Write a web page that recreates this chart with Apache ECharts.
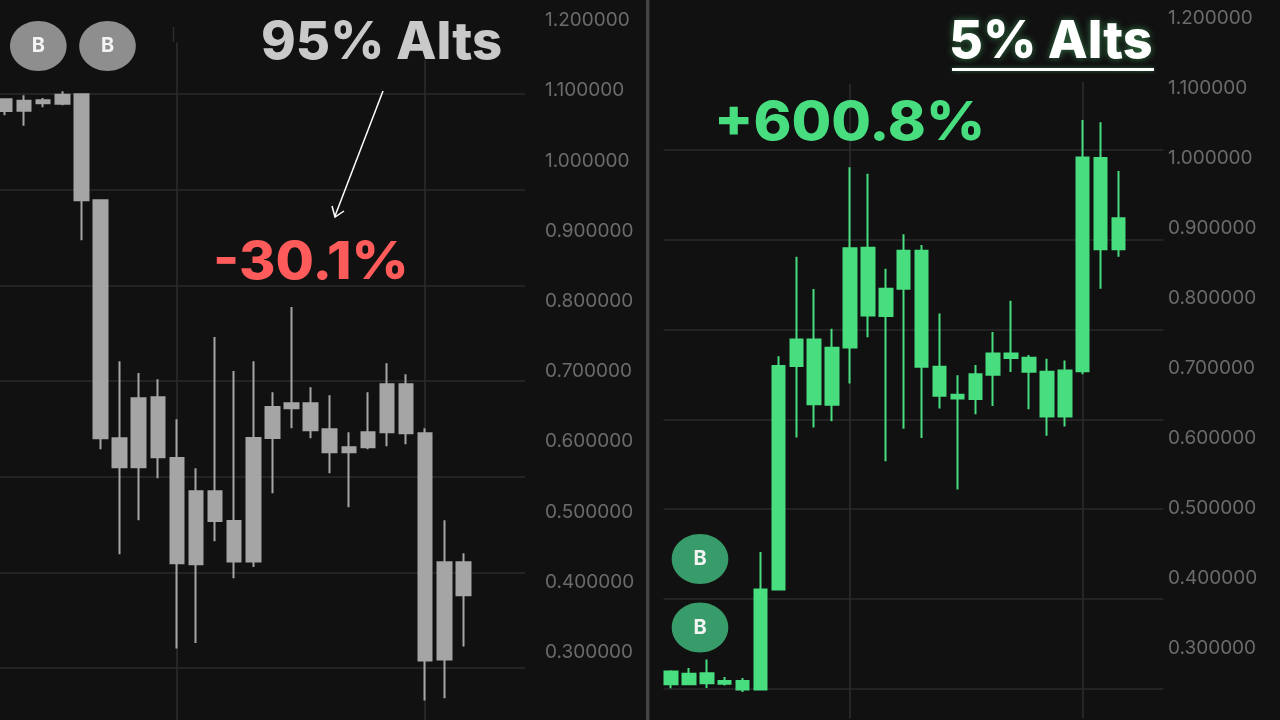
<!DOCTYPE html>
<html><head><meta charset="utf-8">
<style>html,body{margin:0;padding:0;background:#111111}#c{width:1280px;height:720px}</style>
<script src="https://cdn.jsdelivr.net/npm/echarts@6/dist/echarts.min.js"></script>
</head><body><div id="c"></div>
<script>
var openLeft  = [1.0877,1.0856,1.0863,1.0942,1.0949,0.9439,0.6048,0.5635,0.6632,0.5768,0.5293,0.5293,0.4870,0.6053,0.6494,0.6547,0.6547,0.6177,0.5920,0.5920,0.6818,0.6818,0.6120,0.4282,0.4282];
var closeLeft = [1.0711,1.0714,1.0821,1.0813,0.9439,0.6048,0.5635,0.6618,0.5778,0.4268,0.4254,0.4870,0.4296,0.4296,0.6053,0.6476,0.6162,0.5849,0.5849,0.6134,0.6134,0.6120,0.2886,0.2900,0.3812];
var lowLeft   = [1.0650,1.0499,1.0764,1.0792,0.8869,0.5892,0.4396,0.4880,0.5479,0.3057,0.3132,0.4581,0.4054,0.4215,0.5265,0.6191,0.6048,0.5550,0.5066,0.5892,0.5934,0.5963,0.2316,0.2345,0.3085];
var highLeft  = [1.0877,1.0935,1.0896,1.0991,1.0963,0.9439,0.7145,0.6979,0.6889,0.6319,0.5621,0.7492,0.7007,0.7145,0.6704,0.7919,0.6775,0.6661,0.6134,0.6704,0.7117,0.6960,0.6191,0.4880,0.4410];

var openRight  = [0.2486,0.2486,0.2500,0.2496,0.2414,0.2414,0.3839,0.7029,0.6486,0.6476,0.7296,0.7753,0.7743,0.8133,0.7019,0.6604,0.6567,0.6561,0.6904,0.7143,0.6947,0.6310,0.6310,0.6957,0.8696,0.8696];
var closeRight = [0.2671,0.2639,0.2643,0.2533,0.2533,0.3839,0.7029,0.7410,0.7410,0.7290,0.8710,0.8719,0.8133,0.8676,0.8676,0.7019,0.6621,0.6914,0.7210,0.7210,0.7147,0.6947,0.6967,1.0007,1.0000,0.9139];
var lowRight   = [0.2429,0.2479,0.2433,0.2471,0.2376,0.2414,0.3839,0.6010,0.6153,0.6243,0.6781,0.7439,0.5671,0.6133,0.6004,0.6424,0.5267,0.6343,0.6461,0.6943,0.6414,0.6033,0.6167,0.6914,0.8133,0.8590];
var highRight  = [0.2686,0.2719,0.2839,0.2590,0.2576,0.4376,0.7171,0.8590,0.8129,0.7561,0.9867,0.9776,0.8419,0.8910,0.8757,0.7781,0.6900,0.7043,0.7514,0.7961,0.7186,0.7133,0.7110,1.0543,1.0510,0.9814];

var priceTicks = {min:0.2, max:1.3, interval:0.1};
var vLinesLeft  = [{index:9,top:1.1690},{index:22,top:1.1433}];
var vLinesRight = [{index:10,top:1.1057},{index:23,top:1.1086}];

var GRAY='#a5a5a5', GREEN='#48de80', GRID='#2a2a2a', VLINE='#2e2e2e', LABEL='#6b6b6b';
var FONT='Inter, "Liberation Sans", sans-serif';

function candles(o,c,l,h){return o.map(function(v,i){return [v,c[i],l[i],h[i]];});}
function cats(a){return a.map(function(_,i){return String(i);});}
function vmark(list){
  return {silent:true,symbol:'none',z:1,label:{show:false},lineStyle:{color:VLINE,width:1.5,type:'solid'},
    data:list.map(function(v){return [{coord:[String(v.index),v.top]},{coord:[String(v.index),priceTicks.min]}];})};
}
function priceAxis(idx,margin){
  return {type:'value',gridIndex:idx,position:'right',min:priceTicks.min,max:priceTicks.max,interval:priceTicks.interval,
    splitLine:{show:false},axisLine:{show:false},axisTick:{show:false},
    axisLabel:{show:true,margin:margin,color:LABEL,fontFamily:FONT,fontSize:19,showMinLabel:false,showMaxLabel:false,
      formatter:function(v){return v.toFixed(6);}}};
}
function lineAxis(idx,n){
  return {type:'value',gridIndex:idx,min:0,max:n,interval:1,axisLabel:{show:false},axisLine:{show:false},axisTick:{show:false},
    splitLine:{show:true,lineStyle:{color:GRID,width:1.5}}};
}
function badge(cx,cy,fill){
  return [{type:'ellipse',z:10,silent:true,shape:{cx:cx,cy:cy,rx:28.3,ry:25},style:{fill:fill}},
    {type:'text',z:11,silent:true,x:cx,y:cy,style:{text:'B',fill:'#f4f4f4',font:'700 20px '+FONT,textAlign:'center',textVerticalAlign:'middle'}}];
}
function label(txt,x,y,size,sx,fill,extra){
  var s={text:txt,fill:fill,font:'800 '+size+'px '+FONT,textAlign:'left',textVerticalAlign:'middle'};
  for(var k in (extra||{})) s[k]=extra[k];
  return {type:'text',z:12,silent:true,x:x,y:y,scaleX:sx,style:s};
}

var chart=echarts.init(document.getElementById('c'),null,{renderer:'canvas',width:1280,height:720});
chart.setOption({
  animation:false,
  backgroundColor:'#111111',
  grid:[
    {left:-4.55,top:-49.8,width:477.5,height:772.4,outerBoundsMode:'none'},
    {left:662.05,top:-52.2,width:465.4,height:770.6,outerBoundsMode:'none'},
    {left:0,top:94,width:525,height:574,outerBoundsMode:'none'},
    {left:663.5,top:150,width:500,height:538.7,outerBoundsMode:'none'}
  ],
  xAxis:[
    {type:'category',gridIndex:0,data:cats(openLeft),show:false},
    {type:'category',gridIndex:1,data:cats(openRight),show:false},
    {type:'value',gridIndex:2,min:0,max:1,show:false},
    {type:'value',gridIndex:3,min:0,max:1,show:false}
  ],
  yAxis:[priceAxis(0,72),priceAxis(1,40.5),lineAxis(2,6),lineAxis(3,6)],
  series:[
    {type:'candlestick',xAxisIndex:0,yAxisIndex:0,z:3,barWidth:14,
      itemStyle:{color:GRAY,color0:GRAY,borderColor:GRAY,borderColor0:GRAY,borderWidth:2},
      data:candles(openLeft,closeLeft,lowLeft,highLeft),markLine:vmark(vLinesLeft)},
    {type:'candlestick',xAxisIndex:1,yAxisIndex:1,z:3,barWidth:13,
      itemStyle:{color:GREEN,color0:GREEN,borderColor:GREEN,borderColor0:GREEN,borderWidth:2},
      data:candles(openRight,closeRight,lowRight,highRight),markLine:vmark(vLinesRight)}
  ],
  graphic:[].concat(
    badge(38.3,46,'#8e8e8e'),badge(107.5,46,'#8e8e8e'),
    badge(700,559,'#379c69'),badge(700,627.5,'#379c69'),
    [
      {type:'rect',silent:true,z:5,shape:{x:646,y:0,width:3.4,height:720},style:{fill:'#454545'}},
      {type:'line',silent:true,z:1,shape:{x1:173.5,y1:27,x2:173.5,y2:42},style:{stroke:'#2e2e2e',lineWidth:1.5}},
      label('95% Alts',261,43,52,1.013,'#c9c9c9'),
      label('-30.1%',213,263,52,1.07,'#ff5b5b'),
      label('+600.8%',714,124,54,1.065,GREEN),
      label('5% Alts',949,42,52,1,'#ffffff',{textShadowBlur:7,textShadowColor:'rgba(90,230,130,0.5)'}),
      {type:'rect',silent:true,z:12,shape:{x:952,y:68,width:202,height:3},style:{fill:'#ffffff',shadowBlur:4,shadowColor:'rgba(90,230,130,0.4)'}},
      {type:'line',silent:true,z:12,shape:{x1:383,y1:91,x2:335,y2:216},style:{stroke:'#ffffff',lineWidth:1.5}},
      {type:'polyline',silent:true,z:12,shape:{points:[[332,206],[335,217],[344,211]]},style:{stroke:'#ffffff',lineWidth:1.5,fill:'none'}}
    ])
});
</script></body></html>
